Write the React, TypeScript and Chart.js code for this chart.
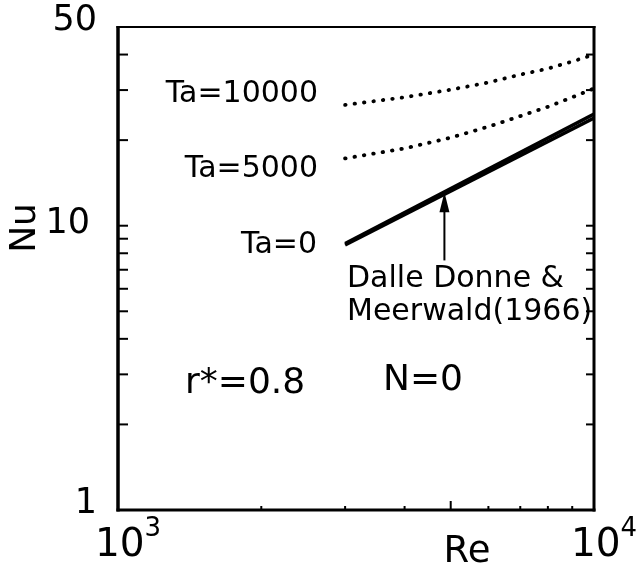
import React, { useEffect, useRef } from "react";
import { Chart, registerables } from "chart.js";

Chart.register(...registerables);

// ---- data ----
const RE_CURVE = [3000, 4000, 5000, 6000, 7000, 8000, 9000, 10000];
const NU_TA10000 = [26.6, 28.3, 30.1, 31.9, 34.0, 35.7, 37.8, 40.0];
const NU_TA5000 = [17.25, 18.7, 20.4, 22.3, 24.3, 26.2, 28.3, 30.4];
const RE_LINE = [3000, 10000];
const NU_TA0 = [8.55, 23.9];
const NU_DALLE_DONNE = [8.65, 24.7];

const X_MIN = 1000;
const X_MAX = 10000;
const Y_MIN = 1;
const Y_MAX = 50;
const X_MINOR_TICKS = [2000, 3000, 4000, 5000, 6000, 7000, 8000, 9000];
const Y_MINOR_TICKS = [2, 3, 4, 5, 6, 7, 8, 9, 10, 20, 30, 40];
const X_TICK_LABELS = [
  { value: 1000, base: "10", exp: "3" },
  { value: 10000, base: "10", exp: "4" },
];
const Y_TICK_LABELS = [1, 10, 50];

const ARROW_RE = 4850;
const ARROW_FROM = 7.55;
const ARROW_TO = 13.1;

const FONT = '"DejaVu Sans", sans-serif';

const pts = (xs: number[], ys: number[]) => xs.map((x, i) => ({ x, y: ys[i] }));

const decorPlugin = {
  id: "decor",
  afterDraw(chart: any) {
    const ctx: CanvasRenderingContext2D = chart.ctx;
    const xs = chart.scales.x;
    const ys = chart.scales.y;
    const { left, right, top, bottom } = chart.chartArea;
    ctx.save();
    ctx.strokeStyle = "#000";
    ctx.fillStyle = "#000";
    ctx.lineCap = "butt";

    const line = (x1: number, y1: number, x2: number, y2: number, w: number) => {
      ctx.lineWidth = w;
      ctx.beginPath();
      ctx.moveTo(x1, y1);
      ctx.lineTo(x2, y2);
      ctx.stroke();
    };
    // frame
    line(left - 1.5, top, right + 1.5, top, 2);
    line(left, top - 1, left, bottom + 1.5, 3.5);
    line(right, top - 1, right, bottom + 1.5, 3);
    line(left - 1.5, bottom, right + 1.5, bottom, 3);

    // y ticks (inside, both sides)
    Y_MINOR_TICKS.forEach((v) => {
      const py = ys.getPixelForValue(v);
      line(left, py, left + 10, py, 2);
      line(right, py, right - 8, py, 2);
    });
    // x ticks (bottom)
    X_MINOR_TICKS.forEach((v) => {
      const px = xs.getPixelForValue(v);
      const len = v === 5000 ? 9 : 4;
      line(px, bottom, px, bottom - len, 2);
    });

    // y tick labels
    ctx.font = `35px ${FONT}`;
    ctx.textBaseline = "alphabetic";
    ctx.textAlign = "right";
    Y_TICK_LABELS.forEach((v) => {
      const py = ys.getPixelForValue(v);
      if (v === 10) ctx.fillText(String(v), 90, py + 7);
      else ctx.fillText(String(v), 97, py + 3);
    });

    // x tick labels with superscripts
    X_TICK_LABELS.forEach((t) => {
      const px = xs.getPixelForValue(t.value);
      ctx.font = `39px ${FONT}`;
      const wb = ctx.measureText(t.base).width;
      ctx.font = `26px ${FONT}`;
      const we = ctx.measureText(t.exp).width;
      const cx = px + 10;
      const x0 = cx - (wb + we) / 2;
      ctx.textAlign = "left";
      ctx.font = `39px ${FONT}`;
      ctx.fillText(t.base, x0, bottom + 46);
      ctx.font = `26px ${FONT}`;
      ctx.fillText(t.exp, x0 + wb, bottom + 26);
    });

    // axis titles
    ctx.font = `37px ${FONT}`;
    ctx.textAlign = "center";
    ctx.fillText("Re", 467, 562);
    ctx.save();
    ctx.translate(35, 228);
    ctx.rotate(-Math.PI / 2);
    ctx.font = `36px ${FONT}`;
    ctx.textAlign = "center";
    ctx.fillText("Nu", 0, 0);
    ctx.restore();

    // curve labels
    ctx.font = `30px ${FONT}`;
    ctx.textAlign = "right";
    ctx.fillText("Ta=10000", 318, 102);
    ctx.fillText("Ta=5000", 318, 177);
    ctx.fillText("Ta=0", 317, 253);
    ctx.textAlign = "left";
    ctx.fillText("Dalle Donne &", 347, 287);
    ctx.fillText("Meerwald(1966)", 347, 320);
    ctx.font = `36px ${FONT}`;
    ctx.fillText("r*=0.8", 185, 393);
    ctx.fillText("N=0", 383, 390);

    // arrow
    const ax = xs.getPixelForValue(ARROW_RE);
    const ay1 = ys.getPixelForValue(ARROW_FROM);
    const ay2 = ys.getPixelForValue(ARROW_TO);
    line(ax, ay1, ax, ay2 + 10, 2);
    ctx.beginPath();
    ctx.moveTo(ax, ay2);
    ctx.lineTo(ax - 5, ay2 + 20);
    ctx.lineTo(ax + 5, ay2 + 20);
    ctx.closePath();
    ctx.fill();

    ctx.restore();
  },
};

export default function App() {
  const ref = useRef<HTMLCanvasElement | null>(null);
  useEffect(() => {
    if (!ref.current) return;
    const dotted = {
      borderColor: "#000",
      borderWidth: 3.8,
      borderDash: [0.5, 9],
      borderCapStyle: "round" as const,
      pointRadius: 0,
      fill: false,
      tension: 0,
    };
    const solid = {
      borderColor: "#000",
      borderWidth: 3.5,
      pointRadius: 0,
      fill: false,
      tension: 0,
    };
    const chart = new Chart(ref.current, {
      type: "line",
      data: {
        datasets: [
          { label: "Ta=10000", data: pts(RE_CURVE, NU_TA10000), ...dotted },
          { label: "Ta=5000", data: pts(RE_CURVE, NU_TA5000), ...dotted },
          { label: "Ta=0", data: pts(RE_LINE, NU_TA0), ...solid },
          { label: "Dalle Donne & Meerwald(1966)", data: pts(RE_LINE, NU_DALLE_DONNE), ...solid },
        ],
      },
      options: {
        animation: false,
        responsive: false,
        layout: { padding: { left: 118, right: 45, top: 27, bottom: 70 } },
        plugins: { legend: { display: false }, tooltip: { enabled: false } },
        scales: {
          x: { type: "logarithmic", min: X_MIN, max: X_MAX, display: false },
          y: { type: "logarithmic", min: Y_MIN, max: Y_MAX, display: false },
        },
      },
      plugins: [decorPlugin],
    });
    return () => chart.destroy();
  }, []);
  return (
    <div style={{ position: "absolute", left: 0, top: 0, width: 639, height: 580, background: "#fff" }}>
      <canvas ref={ref} width={639} height={580} style={{ display: "block" }} />
    </div>
  );
}
